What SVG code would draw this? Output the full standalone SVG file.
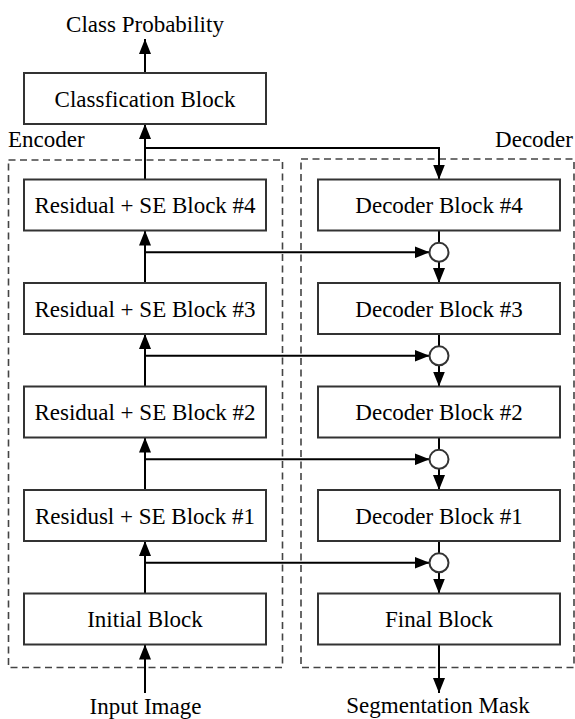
<svg xmlns="http://www.w3.org/2000/svg" width="575" height="719" viewBox="0 0 575 719">
<defs>
<marker id="ah" markerUnits="userSpaceOnUse" markerWidth="15" markerHeight="12" refX="15" refY="6" orient="auto">
<path d="M0,0 L15,6 L0,12 Z" fill="#000"/>
</marker>
<style>
.blk{fill:#fff;stroke:#333;stroke-width:2}
.grp{fill:none;stroke:#444;stroke-width:1.6;stroke-dasharray:7,4.5}
text{font-family:'Liberation Serif','DejaVu Serif',serif;font-size:23px;fill:#000}
.c{text-anchor:middle}
.ln{fill:none;stroke:#000;stroke-width:2}
.ar{fill:none;stroke:#000;stroke-width:2;marker-end:url(#ah)}
.sum{fill:#fff;stroke:#333;stroke-width:2}
</style>
</defs>
<rect width="575" height="719" fill="#fff"/>

<g id="encoder-group">
<rect class="grp" x="8.5" y="160" width="274" height="507.5"/>
<text x="8" y="147" font-family="Liberation Serif, serif">Encoder</text>
</g>
<g id="decoder-group">
<rect class="grp" x="301" y="159" width="273" height="508.5"/>
<text x="573" y="147" text-anchor="end" font-family="Liberation Serif, serif">Decoder</text>
</g>

<g id="connectors">
<line class="ar" x1="145" y1="73" x2="145" y2="39"/>
<line class="ar" x1="145" y1="179.5" x2="145" y2="124"/>
<polyline class="ar" points="145,148 439,148 439,179.5"/>
<line class="ar" x1="145" y1="283" x2="145" y2="230.5"/>
<line class="ar" x1="145" y1="386.5" x2="145" y2="334"/>
<line class="ar" x1="145" y1="490" x2="145" y2="437.5"/>
<line class="ar" x1="145" y1="593.5" x2="145" y2="541"/>
<line class="ar" x1="145" y1="693" x2="145" y2="644.5"/>
<line class="ar" x1="145" y1="252.3" x2="429.5" y2="252.3"/>
<line class="ar" x1="145" y1="355.8" x2="429.5" y2="355.8"/>
<line class="ar" x1="145" y1="459.3" x2="429.5" y2="459.3"/>
<line class="ar" x1="145" y1="562.8" x2="429.5" y2="562.8"/>
<line class="ln" x1="439" y1="230.5" x2="439" y2="242.8"/>
<line class="ar" x1="439" y1="261.8" x2="439" y2="283"/>
<line class="ln" x1="439" y1="334" x2="439" y2="346.3"/>
<line class="ar" x1="439" y1="365.3" x2="439" y2="386.5"/>
<line class="ln" x1="439" y1="437.5" x2="439" y2="449.8"/>
<line class="ar" x1="439" y1="468.8" x2="439" y2="490"/>
<line class="ln" x1="439" y1="541" x2="439" y2="553.3"/>
<line class="ar" x1="439" y1="572.3" x2="439" y2="593.5"/>
<line class="ar" x1="439" y1="644.5" x2="439" y2="693"/>
</g>

<g id="class-probability"><text class="c" x="145" y="32">Class Probability</text></g>
<g id="classification-block"><rect class="blk" x="24" y="73" width="242" height="51"/><text class="c" x="145" y="107">Classfication Block</text></g>
<g id="res4"><rect class="blk" x="24" y="179.5" width="242" height="51"/><text class="c" x="145" y="213">Residual + SE Block #4</text></g>
<g id="res3"><rect class="blk" x="24" y="283" width="242" height="51"/><text class="c" x="145" y="316.5">Residual + SE Block #3</text></g>
<g id="res2"><rect class="blk" x="24" y="386.5" width="242" height="51"/><text class="c" x="145" y="420">Residual + SE Block #2</text></g>
<g id="res1"><rect class="blk" x="24" y="490" width="242" height="51"/><text class="c" x="145" y="523.5">Residusl + SE Block #1</text></g>
<g id="initial"><rect class="blk" x="24" y="593.5" width="242" height="51"/><text class="c" x="145" y="627">Initial Block</text></g>
<g id="input-image"><text class="c" x="145.5" y="714">Input Image</text></g>

<g id="dec4"><rect class="blk" x="318" y="179.5" width="242" height="51"/><text class="c" x="439" y="213">Decoder Block #4</text></g>
<g id="dec3"><rect class="blk" x="318" y="283" width="242" height="51"/><text class="c" x="439" y="316.5">Decoder Block #3</text></g>
<g id="dec2"><rect class="blk" x="318" y="386.5" width="242" height="51"/><text class="c" x="439" y="420">Decoder Block #2</text></g>
<g id="dec1"><rect class="blk" x="318" y="490" width="242" height="51"/><text class="c" x="439" y="523.5">Decoder Block #1</text></g>
<g id="final"><rect class="blk" x="318" y="593.5" width="242" height="51"/><text class="c" x="439" y="627">Final Block</text></g>
<g id="seg-mask"><text class="c" x="438" y="713">Segmentation Mask</text></g>

<g id="sum4"><circle class="sum" cx="439" cy="252.3" r="9.5"/></g>
<g id="sum3"><circle class="sum" cx="439" cy="355.8" r="9.5"/></g>
<g id="sum2"><circle class="sum" cx="439" cy="459.3" r="9.5"/></g>
<g id="sum1"><circle class="sum" cx="439" cy="562.8" r="9.5"/></g>
</svg>
